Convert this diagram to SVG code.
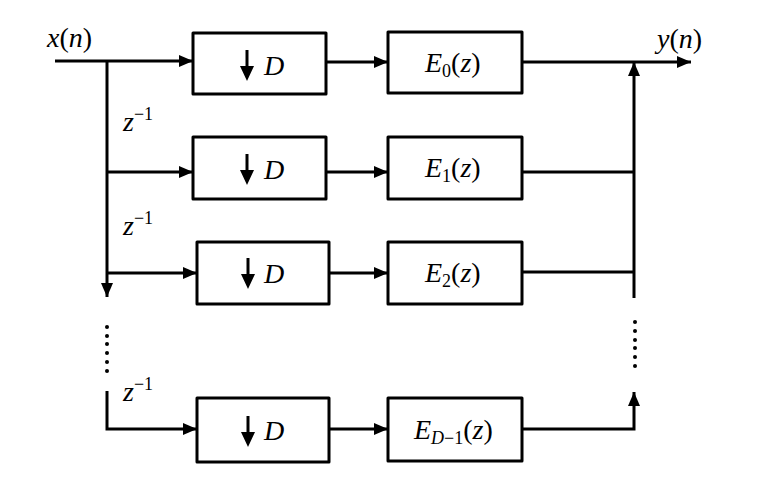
<svg xmlns="http://www.w3.org/2000/svg" width="768" height="486" viewBox="0 0 768 486">
<style>
.box{fill:#fff;stroke:#000;stroke-width:3;stroke-linejoin:round}
.ln{fill:none;stroke:#000;stroke-width:3}
.i{font-style:italic}
.s{font-style:normal;font-size:18px}
.si{font-style:italic;font-size:18px}
</style>
<defs>
<marker id="ah" markerWidth="14" markerHeight="12" refX="14" refY="6" orient="auto" markerUnits="userSpaceOnUse">
<path d="M0,0 L14,6 L0,12 Z" fill="#000"/>
</marker>
</defs>
<g font-family="Liberation Serif, Times New Roman, serif" font-size="28" fill="#000">
<g id="connectors">
<line class="ln" x1="55" y1="61" x2="193" y2="61" marker-end="url(#ah)"/>
<polyline class="ln" points="107,61 107,297" marker-end="url(#ah)"/>
<line class="ln" x1="107" y1="172" x2="193" y2="172" marker-end="url(#ah)"/>
<line class="ln" x1="107" y1="273" x2="197" y2="273" marker-end="url(#ah)"/>
<polyline class="ln" points="107,391 107,429 197,429" marker-end="url(#ah)"/>
<line class="ln" x1="326" y1="62" x2="388" y2="62" marker-end="url(#ah)"/>
<line class="ln" x1="326" y1="172" x2="388" y2="172" marker-end="url(#ah)"/>
<line class="ln" x1="329" y1="273" x2="388" y2="273" marker-end="url(#ah)"/>
<line class="ln" x1="329" y1="429" x2="388" y2="429" marker-end="url(#ah)"/>
<line class="ln" x1="522" y1="62" x2="691" y2="62" marker-end="url(#ah)"/>
<polyline class="ln" points="634,298 634,62" marker-end="url(#ah)"/>
<line class="ln" x1="522" y1="172" x2="634" y2="172"/>
<line class="ln" x1="522" y1="272" x2="634" y2="272"/>
<polyline class="ln" points="522,429 634,429 634,392" marker-end="url(#ah)"/>
<g fill="#000">
<circle cx="107" cy="327" r="2"/><circle cx="107" cy="336" r="2"/><circle cx="107" cy="344" r="2"/><circle cx="107" cy="353" r="2"/><circle cx="107" cy="362" r="2"/><circle cx="107" cy="371" r="2"/>
<circle cx="635" cy="322" r="2"/><circle cx="635" cy="331" r="2"/><circle cx="635" cy="340" r="2"/><circle cx="635" cy="348" r="2"/><circle cx="635" cy="357" r="2"/><circle cx="635" cy="366" r="2"/>
</g>
<text x="47" y="47"><tspan class="i">x</tspan>(<tspan class="i">n</tspan>)</text>
<text x="657" y="48"><tspan class="i">y</tspan>(<tspan class="i">n</tspan>)</text>
<text x="123" y="131"><tspan class="i">z</tspan><tspan class="s" dy="-11">−1</tspan></text>
<text x="123" y="235"><tspan class="i">z</tspan><tspan class="s" dy="-11">−1</tspan></text>
<text x="123" y="401"><tspan class="i">z</tspan><tspan class="s" dy="-11">−1</tspan></text>
</g>
<g id="down0">
<rect class="box" x="193" y="33" width="133" height="61"/>
<line class="ln" x1="247" y1="50" x2="247" y2="68"/><path d="M240,66 L254,66 L247,81 Z"/>
<text class="i" x="264" y="75">D</text>
</g>
<g id="down1">
<rect class="box" x="193" y="137" width="133" height="62"/>
<line class="ln" x1="247" y1="154" x2="247" y2="172"/><path d="M240,170 L254,170 L247,185 Z"/>
<text class="i" x="264" y="179">D</text>
</g>
<g id="down2">
<rect class="box" x="197" y="242" width="132" height="62"/>
<line class="ln" x1="248" y1="258" x2="248" y2="276"/><path d="M241,274 L255,274 L248,289 Z"/>
<text class="i" x="264" y="283">D</text>
</g>
<g id="downD">
<rect class="box" x="197" y="398" width="132" height="64"/>
<line class="ln" x1="248" y1="416" x2="248" y2="434"/><path d="M241,432 L255,432 L248,447 Z"/>
<text class="i" x="264" y="440">D</text>
</g>
<g id="E0">
<rect class="box" x="388" y="32" width="134" height="61"/>
<text x="425" y="72"><tspan class="i">E</tspan><tspan class="s" dy="5">0</tspan><tspan dy="-5">(</tspan><tspan class="i">z</tspan>)</text>
</g>
<g id="E1">
<rect class="box" x="388" y="137" width="134" height="62"/>
<text x="425" y="177"><tspan class="i">E</tspan><tspan class="s" dy="5">1</tspan><tspan dy="-5">(</tspan><tspan class="i">z</tspan>)</text>
</g>
<g id="E2">
<rect class="box" x="388" y="242" width="134" height="62"/>
<text x="425" y="282"><tspan class="i">E</tspan><tspan class="s" dy="5">2</tspan><tspan dy="-5">(</tspan><tspan class="i">z</tspan>)</text>
</g>
<g id="ED1">
<rect class="box" x="388" y="398" width="134" height="63"/>
<text x="414" y="439"><tspan class="i">E</tspan><tspan class="si" dy="5">D</tspan><tspan class="s">−1</tspan><tspan dy="-5">(</tspan><tspan class="i">z</tspan>)</text>
</g>
</g>
</svg>
